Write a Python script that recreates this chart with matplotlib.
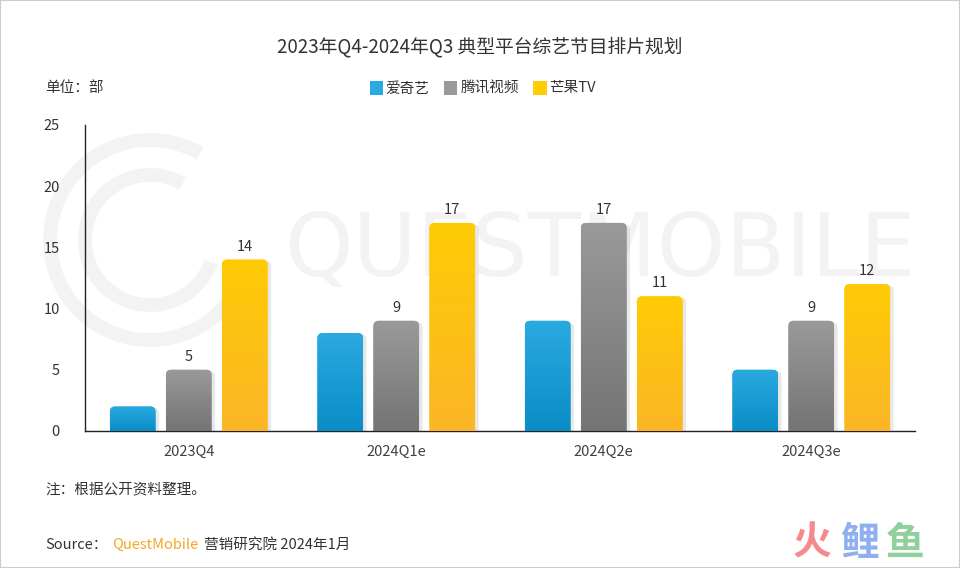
import matplotlib.pyplot as plt
import matplotlib.patches as mpatches
import matplotlib.patheffects as pe
from matplotlib.colors import LinearSegmentedColormap
import numpy as np

plt.rcParams['font.family'] = ['Noto Sans CJK SC', 'DejaVu Sans']

categories = ['2023Q4', '2024Q1e', '2024Q2e', '2024Q3e']
series_names = ['爱奇艺', '腾讯视频', '芒果TV']
iqiyi = [2, 8, 9, 5]
tencent = [5, 9, 17, 9]
mango = [14, 17, 11, 12]
yticks = [0, 5, 10, 15, 20, 25]

# gradient (top, bottom) for each series
grads = [('#2aaae0', '#0a8cc6'), ('#9a9a9a', '#747474'), ('#ffcb05', '#fbb626')]
show_labels = [False, True, True]
text_c = '#333333'

fig = plt.figure(figsize=(9.6, 5.68), dpi=100)
fig.patch.set_facecolor('white')

# watermark lives in a background axes
bg = fig.add_axes([0, 0, 1, 1], zorder=-1)
bg.set_xlim(0, 960)
bg.set_ylim(568, 0)
bg.axis('off')
bg.text(600, 252, 'QUESTMOBILE', fontsize=63, color='#f3f3f3',
        ha='center', va='center', family='DejaVu Sans')
for d, lw in [(200, 10), (130, 10)]:
    bg.add_patch(mpatches.Arc((150, 240), d, d, theta1=20, theta2=300,
                              color='#f3f3f3', lw=lw))

ax = fig.add_axes([85/960, 1-431/568, 830/960, 306/568])
ax.set_facecolor('none')
ax.set_xlim(-0.5, 3.5)
ax.set_ylim(0, 25)

x = np.arange(len(categories))
w = 0.22
offs = [-0.27, 0, 0.27]
# data-unit aspect for rounded corners
aspect = (830 / 4.0) / (306 / 25.0)

for i, vals in enumerate([iqiyi, tencent, mango]):
    bars = ax.bar(x + offs[i], vals, w, color='none', zorder=2)
    cmap = LinearSegmentedColormap.from_list('g%d' % i, [grads[i][1], grads[i][0]])
    for b, v in zip(bars, vals):
        bx, bw, bh = b.get_x(), b.get_width(), b.get_height()
        patch = mpatches.FancyBboxPatch((bx, -1), bw, bh + 1,
                                        boxstyle='round,pad=0,rounding_size=0.025',
                                        mutation_aspect=aspect, fc=grads[i][0], ec='none',
                                        zorder=2)
        patch.set_path_effects([pe.SimplePatchShadow(offset=(2.5, -1), shadow_rgbFace='#999999', alpha=0.22),
                                pe.Normal()])
        ax.add_patch(patch)
        grad = np.linspace(0, 1, 256).reshape(-1, 1)
        im = ax.imshow(grad, cmap=cmap, origin='lower', aspect='auto',
                       extent=(bx, bx + bw, 0, bh), zorder=3)
        im.set_clip_path(patch)
        if show_labels[i]:
            ax.text(b.get_x() + bw/2, bh + 0.5, str(v), ha='center', va='bottom',
                    fontsize=10.5, color=text_c, zorder=4)

ax.set_xlim(-0.5, 3.5)
ax.set_ylim(0, 25)
ax.set_xticks(x)
ax.set_xticklabels(categories, fontsize=10.5, color='#404040')
ax.set_yticks(yticks)
ax.set_yticklabels([str(t) for t in yticks], fontsize=10.5, color=text_c)
ax.tick_params(length=0, pad=10)
ax.tick_params(axis='y', pad=18)
for s in ['top', 'right']:
    ax.spines[s].set_visible(False)
for s in ['left', 'bottom']:
    ax.spines[s].set_color('#222222')
    ax.spines[s].set_linewidth(1)

fig.text(0.5, 1-47/568, '2023年Q4-2024年Q3 典型平台综艺节目排片规划', ha='center', va='center',
         fontsize=13.5, color=text_c)
fig.text(45/960, 1-88/568, '单位：部', ha='left', va='center', fontsize=10.5, color=text_c)

handles = [mpatches.FancyBboxPatch((0, 0), 1, 1, boxstyle='round,pad=0,rounding_size=0.2',
                                   fc=g[0], ec='none') for g in grads]
fig.legend(handles, series_names, loc='center', bbox_to_anchor=(0.503, 1-88/568), ncol=3,
           frameon=False, fontsize=10.5, handlelength=0.9, handleheight=1.1,
           handletextpad=0.2, columnspacing=1.0, labelcolor=text_c)

fig.text(45/960, 1-489/568, '注：根据公开资料整理。', ha='left', va='center', fontsize=10.5, color=text_c)
fig.text(45/960, 1-545/568, 'Source：', ha='left', va='center', fontsize=10.5, color=text_c)
fig.text(112/960, 1-545/568, 'QuestMobile', ha='left', va='center', fontsize=10.5, color='#f5a623')
fig.text(204/960, 1-545/568, '营销研究院 2024年1月', ha='left', va='center', fontsize=10.5, color=text_c)

# corner logo
for cx, ch, col in [(793, '火', '#f7898b'), (840, '鲤', '#8fb0f0'), (886, '鱼', '#8fd09c')]:
    fig.text(cx/960, 1-543/568, ch, fontsize=28, color=col, ha='left', va='center', weight='bold')

border = mpatches.Rectangle((0, 0), 1, 1, transform=fig.transFigure, fill=False,
                            ec='#cccccc', lw=1.5)
fig.add_artist(border)

fig.savefig('out.png', dpi=100)
